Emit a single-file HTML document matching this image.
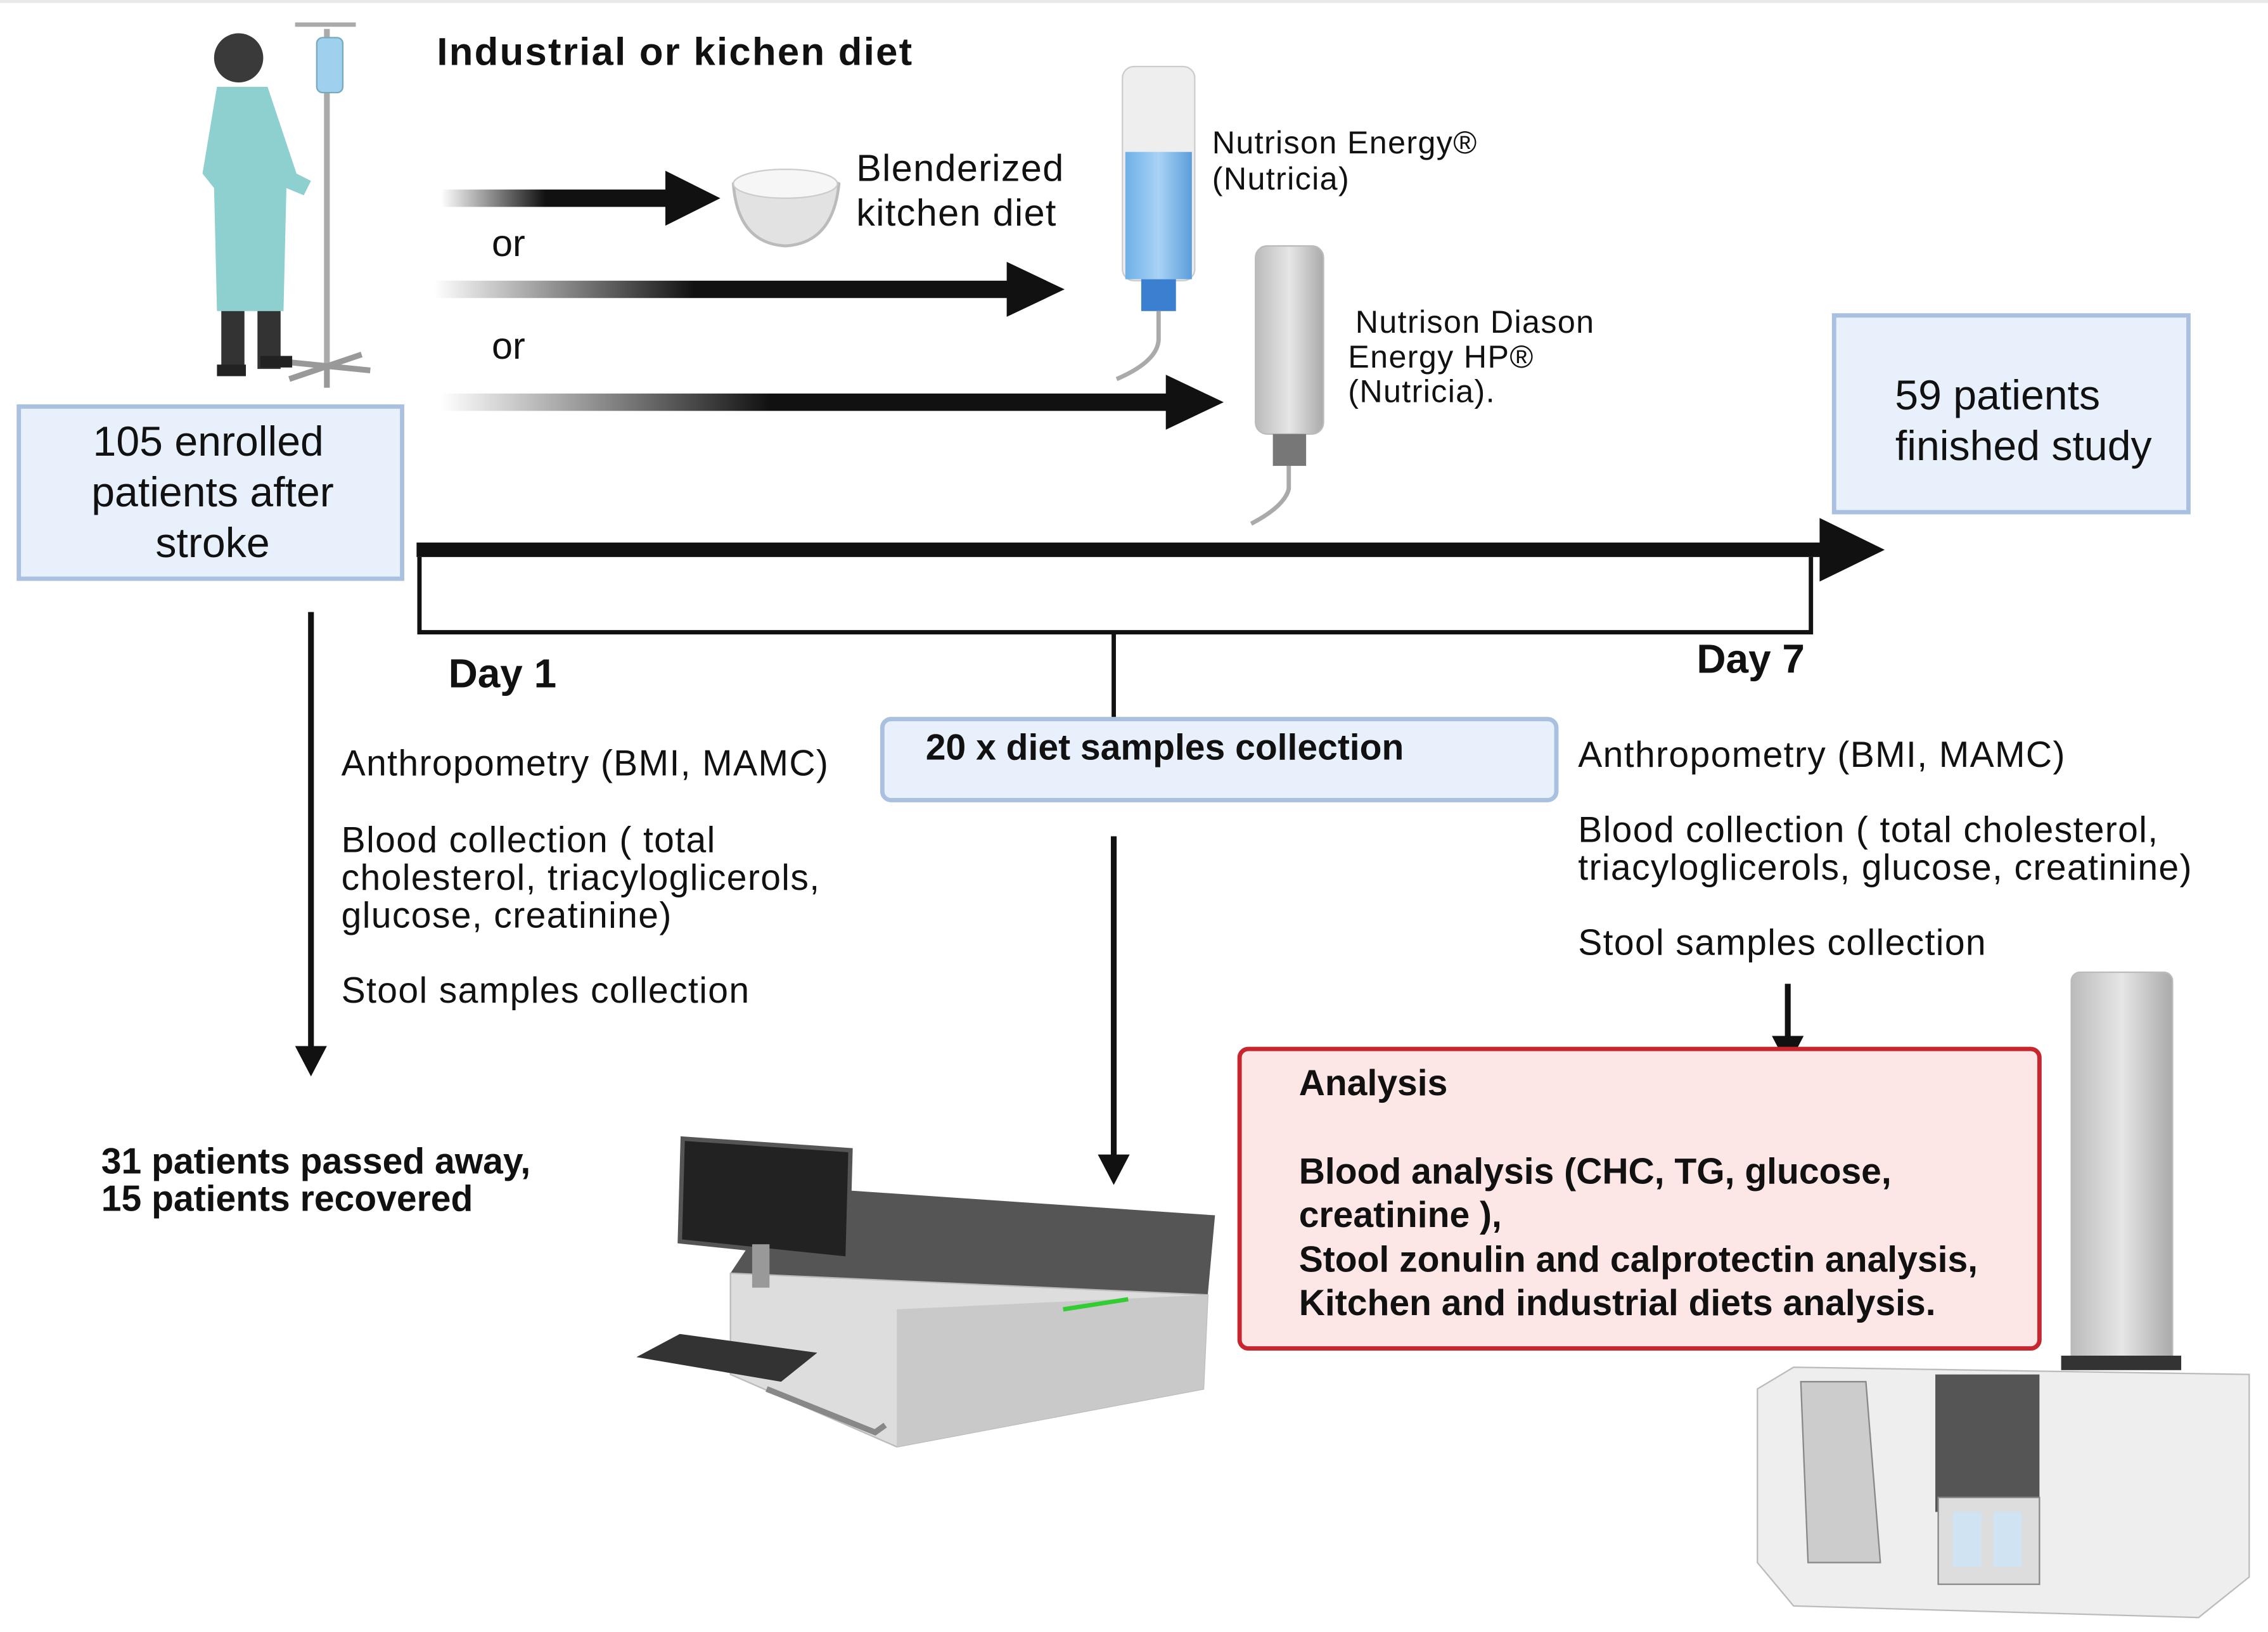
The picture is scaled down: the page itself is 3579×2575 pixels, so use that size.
<!DOCTYPE html>
<html><head><meta charset="utf-8"><style>
html,body{margin:0;padding:0;background:#fff;}
svg{display:block;}
text{font-family:"Liberation Sans",sans-serif;fill:#111;}
.b{font-weight:bold;}
.t{letter-spacing:0.6px;}
</style></head><body>
<svg width="3579" height="2575" viewBox="0 0 1568 1128" preserveAspectRatio="none" xmlns="http://www.w3.org/2000/svg">
<defs>
<linearGradient id="g" x1="0" x2="1" y1="0" y2="0"><stop offset="0" stop-color="#fff"/><stop offset="0.45" stop-color="#111"/><stop offset="1" stop-color="#111"/></linearGradient>
<linearGradient id="bl" x1="0" x2="1"><stop offset="0" stop-color="#6fb0e8"/><stop offset="0.5" stop-color="#a9d3f5"/><stop offset="1" stop-color="#5b9edb"/></linearGradient>
<linearGradient id="gr" x1="0" x2="1"><stop offset="0" stop-color="#bbb"/><stop offset="0.5" stop-color="#e6e6e6"/><stop offset="1" stop-color="#aaa"/></linearGradient>
</defs>
<rect width="1568" height="1128" fill="#fff"/>
<line x1="0" y1="1" x2="1568" y2="1" stroke="#e8e8e8" stroke-width="2"/>

<!-- person & IV -->
<line x1="226" y1="20" x2="226" y2="255" stroke="#aaa" stroke-width="4"/>
<line x1="204" y1="17" x2="246" y2="17" stroke="#aaa" stroke-width="3"/>
<rect x="219" y="26" width="18" height="38" rx="4" fill="#9fd0ee" stroke="#7ab" />
<path d="M196 250 L256 256 M200 262 L250 245 M226 255 L226 268" stroke="#999" stroke-width="4"/>
<circle cx="165" cy="40" r="17" fill="#3a3a3a"/>
<path d="M150 60 L185 60 L205 120 L215 125 L210 135 L198 130 L196 215 L150 215 L148 130 L140 120 Z" fill="#8ecfd0"/>
<rect x="153" y="215" width="16" height="40" fill="#333"/><rect x="178" y="215" width="16" height="40" fill="#333"/>
<rect x="150" y="252" width="20" height="8" fill="#222"/><rect x="180" y="246" width="22" height="8" fill="#222"/>

<text x="302" y="45" font-size="27" class="b" style="letter-spacing:1px">Industrial or kichen diet</text>

<!-- gradient arrows -->
<rect x="305" y="131" width="160" height="12" fill="url(#g)"/><path d="M460 118 L498 137 L460 156 Z" fill="#111"/>
<rect x="300" y="194" width="400" height="12" fill="url(#g)"/><path d="M696 181 L736 200 L696 219 Z" fill="#111"/>
<rect x="305" y="272" width="505" height="12" fill="url(#g)"/><path d="M806 259 L846 278 L806 297 Z" fill="#111"/>
<text x="340" y="177" font-size="26">or</text>
<text x="340" y="248" font-size="26">or</text>

<!-- bowl -->
<path d="M507 127 Q543 112 580 127 Q576 168 543 170 Q510 168 507 127 Z" fill="#e2e2e2" stroke="#bbb" stroke-width="2"/>
<ellipse cx="543" cy="127" rx="36" ry="10" fill="#f6f6f6" stroke="#ccc"/>
<text x="592" y="125" font-size="26" class="t">Blenderized</text>
<text x="592" y="156" font-size="26" class="t">kitchen diet</text>

<!-- bottle 1 -->
<rect x="776" y="46" width="50" height="148" rx="8" fill="#eee" stroke="#ccc"/>
<rect x="778" y="105" width="46" height="88" fill="url(#bl)"/>
<rect x="789" y="193" width="24" height="22" fill="#3a7fd0"/>
<path d="M801 215 L801 235 Q800 250 772 262" stroke="#aaa" stroke-width="3" fill="none"/>
<text x="838" y="106" font-size="22" class="t">Nutrison Energy®</text>
<text x="838" y="131" font-size="22" class="t">(Nutricia)</text>

<!-- bottle 2 -->
<rect x="868" y="170" width="47" height="130" rx="8" fill="url(#gr)" stroke="#bbb"/>
<rect x="880" y="300" width="23" height="22" fill="#777"/>
<path d="M891 322 L891 338 Q888 350 865 362" stroke="#aaa" stroke-width="3" fill="none"/>
<text x="937" y="230" font-size="22" class="t">Nutrison Diason</text>
<text x="932" y="254" font-size="22" class="t">Energy HP®</text>
<text x="932" y="278" font-size="22" class="t">(Nutricia).</text>

<!-- boxes -->
<rect x="1268" y="218" width="245" height="136" fill="#e8f0fb" stroke="#a9c0e0" stroke-width="3"/>
<text x="1381" y="283" font-size="29" text-anchor="middle">59 patients</text>
<text x="1399" y="318" font-size="29" text-anchor="middle">finished study</text>
<rect x="13" y="281" width="265" height="119" fill="#e8f0fb" stroke="#a9c0e0" stroke-width="3"/>
<text x="144" y="315" font-size="29" text-anchor="middle">105 enrolled</text>
<text x="147" y="350" font-size="29" text-anchor="middle">patients after</text>
<text x="147" y="385" font-size="29" text-anchor="middle">stroke</text>

<!-- timeline -->
<rect x="288" y="375" width="975" height="10" fill="#111"/>
<path d="M1258 358 L1303 380 L1258 402 Z" fill="#111"/>
<path d="M290 385 L290 437 L1252 437 L1252 385" fill="none" stroke="#111" stroke-width="3"/>
<line x1="770" y1="437" x2="770" y2="497" stroke="#111" stroke-width="3"/>
<text x="310" y="475" font-size="28" class="b">Day 1</text>
<text x="1173" y="465" font-size="28" class="b">Day 7</text>

<rect x="610" y="497" width="466" height="56" rx="6" fill="#e8f0fb" stroke="#a9c0e0" stroke-width="3"/>
<text x="640" y="525" font-size="25" class="b">20 x diet samples collection</text>

<!-- arrows down -->
<line x1="215" y1="423" x2="215" y2="725" stroke="#111" stroke-width="4"/><path d="M204 723 L215 744 L226 723 Z" fill="#111"/>
<line x1="770" y1="578" x2="770" y2="800" stroke="#111" stroke-width="4"/><path d="M759 798 L770 819 L781 798 Z" fill="#111"/>
<line x1="1236" y1="680" x2="1236" y2="718" stroke="#111" stroke-width="4"/><path d="M1225 716 L1236 737 L1247 716 Z" fill="#111"/>

<g font-size="25" class="t">
<text x="236" y="536">Anthropometry (BMI, MAMC)</text>
<text x="236" y="589">Blood collection  ( total</text>
<text x="236" y="615">cholesterol, triacyloglicerols,</text>
<text x="236" y="641">glucose, creatinine)</text>
<text x="236" y="693">Stool samples collection</text>
<text x="1091" y="530">Anthropometry (BMI, MAMC)</text>
<text x="1091" y="582">Blood collection ( total cholesterol,</text>
<text x="1091" y="608">triacyloglicerols, glucose, creatinine)</text>
<text x="1091" y="660">Stool samples collection</text>
</g>

<rect x="857" y="725" width="553" height="207" rx="6" fill="#fde6e6" stroke="#c8262f" stroke-width="3"/>
<g font-size="25">
<text x="898" y="757" class="b">Analysis</text>
<text x="898" y="818" class="b">Blood  analysis (CHC, TG, glucose,</text>
<text x="898" y="848" class="b">creatinine ),</text>
<text x="898" y="879" class="b">Stool zonulin and calprotectin analysis,</text>
<text x="898" y="909" class="b">Kitchen and industrial diets analysis.</text>
<text x="70" y="811" class="b">31 patients  passed away,</text>
<text x="70" y="837" class="b">15 patients recovered</text>
</g>

<!-- scanner device -->
<path d="M505 880 L545 820 L840 840 L835 895 Z" fill="#555"/>
<path d="M505 880 L835 895 L832 960 L620 1000 L505 950 Z" fill="#ddd" stroke="#bbb"/>
<path d="M620 905 L835 895 L832 960 L620 1000 Z" fill="#c9c9c9"/>
<line x1="735" y1="905" x2="780" y2="898" stroke="#3c3" stroke-width="3"/>
<path d="M472 787 L588 795 L586 870 L470 858 Z" fill="#222" stroke="#555" stroke-width="3"/>
<rect x="520" y="860" width="12" height="30" fill="#999"/>
<path d="M440 938 L470 922 L565 935 L540 955 Z" fill="#333"/>
<path d="M530 960 L605 990 L612 985" stroke="#888" stroke-width="4" fill="none"/>

<!-- mass spec -->
<rect x="1432" y="672" width="70" height="272" rx="6" fill="url(#gr)" stroke="#bbb"/>
<rect x="1425" y="937" width="83" height="10" fill="#333"/>
<path d="M1215 960 L1240 945 L1555 950 L1555 1090 L1520 1118 L1240 1110 L1215 1080 Z" fill="#eee" stroke="#bbb"/>
<path d="M1245 955 L1290 955 L1300 1080 L1250 1080 Z" fill="#ccc" stroke="#888"/>
<rect x="1338" y="950" width="72" height="95" fill="#555"/>
<rect x="1340" y="1035" width="70" height="60" fill="#ddd" stroke="#888"/>
<rect x="1350" y="1045" width="20" height="38" fill="#cfe3f3"/><rect x="1378" y="1045" width="20" height="38" fill="#cfe3f3"/>
</svg>
</body></html>
